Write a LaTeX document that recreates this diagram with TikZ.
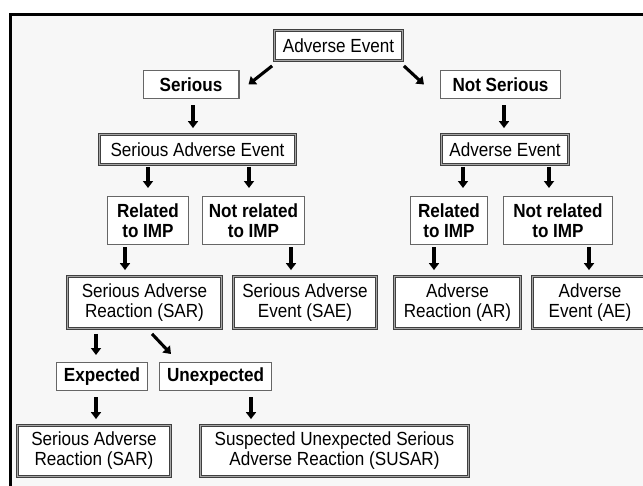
\documentclass[tikz,border=0pt]{standalone}
\usepackage{fontspec}
\setmainfont{Liberation Sans}[FakeStretch=0.9]
\usetikzlibrary{arrows.meta}
\newcommand\myfs{\fontsize{19}{20}\selectfont}
\tikzset{
  dbox/.style={draw=black!75, double=black!35, double distance=1.3pt, line width=0.9pt,
    fill=white, inner sep=0pt, align=center, font=\myfs},
  sbox/.style={draw=black!60, line width=1.2pt, fill=white, inner sep=0pt, align=center,
    font=\myfs\bfseries},
  arr/.style={line width=3.1pt, -{Triangle[width=10pt,length=7pt]}},
}
\begin{document}
\begin{tikzpicture}[x=1pt,y=-1pt]
\useasboundingbox (0,0) rectangle (643,485);
\clip (0,0) rectangle (643,485);
\fill[white] (0,0) rectangle (643,485);
\draw[line width=3pt, fill=black!3] (10,14.5) rectangle (700,530);

% nodes (sizes: outer extent minus border width)
\node[dbox, minimum width=127.9pt, minimum height=29.9pt] (ae0) at (338.5,45.5) {Adverse Event};
\node[sbox, minimum width=95.8pt, minimum height=27.8pt] (ser) at (191,84.5) {Serious};
\node[sbox, minimum width=119.8pt, minimum height=27.8pt] (nser) at (500.5,84.5) {Not Serious};
\node[dbox, minimum width=195.9pt, minimum height=29.9pt] (sae) at (197.5,149.5) {Serious Adverse Event};
\node[dbox, minimum width=126.9pt, minimum height=29.9pt] (ae1) at (505,149.5) {Adverse Event};

\node[sbox, minimum width=80.8pt, minimum height=47.8pt] (rel1) at (148,220.5) {Related\\to IMP};
\node[sbox, minimum width=101.8pt, minimum height=47.8pt] (nrel1) at (253.5,220.5) {Not related\\to IMP};
\node[sbox, minimum width=76.8pt, minimum height=47.8pt] (rel2) at (449,220.5) {Related\\to IMP};
\node[sbox, minimum width=108.8pt, minimum height=47.8pt] (nrel2) at (558,220.5) {Not related\\to IMP};

\node[dbox, minimum width=153.9pt, minimum height=51.9pt] (sar1) at (144.5,302.5) {Serious Adverse\\Reaction (SAR)};
\node[dbox, minimum width=142.9pt, minimum height=51.9pt] (sae2) at (305,302.5) {Serious Adverse\\Event (SAE)};
\node[dbox, minimum width=125.9pt, minimum height=51.9pt] (ar) at (457.5,302.5) {Adverse\\Reaction (AR)};
\node[dbox, minimum width=114.9pt, minimum height=51.9pt] (aeb) at (590,302.5) {Adverse\\Event (AE)};

\node[sbox, minimum width=90.8pt, minimum height=27.8pt] (exp) at (102,376.5) {Expected};
\node[sbox, minimum width=111.8pt, minimum height=27.8pt] (unexp) at (215.5,376.5) {Unexpected};

\node[dbox, minimum width=152.9pt, minimum height=50.9pt] (sar2) at (94,451) {Serious Adverse\\Reaction (SAR)};
\node[dbox, minimum width=267.9pt, minimum height=50.9pt] (susar) at (334.5,451) {Suspected Unexpected Serious\\Adverse Reaction (SUSAR)};

% diagonal arrows
\draw[arr] ([xshift=-2pt,yshift=-5pt]ae0.south west) -- ([xshift=9pt]ser.east);
\draw[arr] ([xshift=1pt,yshift=-5pt]ae0.south east) -- ([xshift=-16pt]nser.west);
\draw[arr] ([xshift=7.5pt,yshift=-5pt]sar1.south) -- ([xshift=12pt,yshift=8pt]unexp.north west);

% vertical arrows
\draw[arr, shorten <=6pt, shorten >=6pt] ([xshift=-4.5pt]sae.north |- ser.south) -- ([xshift=-4.5pt]sae.north);
\draw[arr, shorten <=6pt, shorten >=6pt] ([xshift=-1pt]ae1.north |- nser.south) -- ([xshift=-1pt]ae1.north);

\draw[arr, shorten <=2pt, shorten >=8pt] (rel1.north |- sae.south) -- (rel1.north);
\draw[arr, shorten <=2pt, shorten >=8pt] ([xshift=-4.5pt]nrel1.north |- sae.south) -- ([xshift=-4.5pt]nrel1.north);
\draw[arr, shorten <=2pt, shorten >=8pt] ([xshift=14pt]rel2.north |- ae1.south) -- ([xshift=14pt]rel2.north);
\draw[arr, shorten <=2pt, shorten >=8pt] ([xshift=-9pt]nrel2.north |- ae1.south) -- ([xshift=-9pt]nrel2.north);

\draw[arr, shorten <=2pt, shorten >=6pt] ([xshift=-19.5pt]sar1.north |- rel1.south) -- ([xshift=-19.5pt]sar1.north);
\draw[arr, shorten <=2pt, shorten >=6pt] ([xshift=-14pt]sae2.north |- nrel1.south) -- ([xshift=-14pt]sae2.north);
\draw[arr, shorten <=2pt, shorten >=6pt] ([xshift=-23.5pt]ar.north |- rel2.south) -- ([xshift=-23.5pt]ar.north);
\draw[arr, shorten <=2pt, shorten >=6pt] ([xshift=-1pt]aeb.north |- nrel2.south) -- ([xshift=-1pt]aeb.north);

\draw[arr, shorten <=5pt, shorten >=7pt] ([xshift=-6pt]exp.north |- sar1.south) -- ([xshift=-6pt]exp.north);
\draw[arr, shorten <=6pt, shorten >=6pt] ([xshift=2pt]sar2.north |- exp.south) -- ([xshift=2pt]sar2.north);
\draw[arr, shorten <=6pt, shorten >=6pt] ([xshift=-83.5pt]susar.north |- unexp.south) -- ([xshift=-83.5pt]susar.north);
\end{tikzpicture}
\end{document}
